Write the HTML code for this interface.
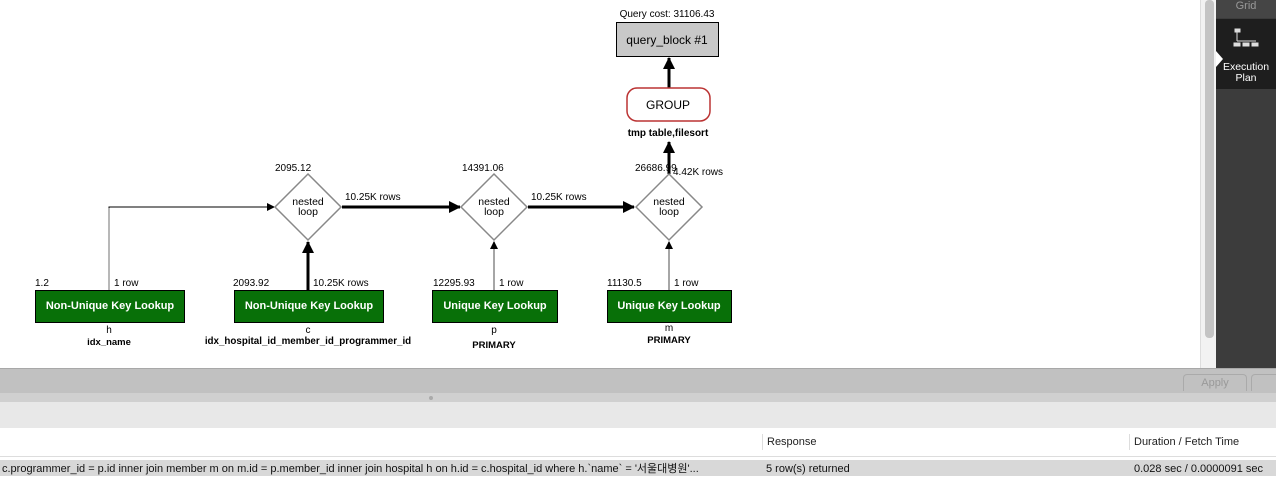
<!DOCTYPE html>
<html><head><style>
body{margin:0;width:1276px;height:476px;overflow:hidden;background:#fff;font-family:"Liberation Sans",Arial,sans-serif;position:relative}
.a{position:absolute}
</style></head><body>
<svg class="a" style="left:0;top:0" width="1200" height="368" font-family="Liberation Sans, Arial, sans-serif" font-size="10">
<defs>
<marker id="ah" markerWidth="8" markerHeight="8" refX="7" refY="4" orient="auto" markerUnits="userSpaceOnUse"><path d="M0,0 L8,4 L0,8 z" fill="#000"/></marker>
<marker id="ah2" markerWidth="12" markerHeight="12" refX="11" refY="6" orient="auto" markerUnits="userSpaceOnUse"><path d="M0,0 L12,6 L0,12 z" fill="#000"/></marker>
</defs>
<polyline points="109,290 109,207 274,207" fill="none" stroke="#000" stroke-width="1" marker-end="url(#ah)"/>
<line x1="109" y1="290" x2="109" y2="208" stroke="#888" stroke-width="1.2"/>
<line x1="308" y1="290" x2="308" y2="242" stroke="#000" stroke-width="3" marker-end="url(#ah2)"/>
<line x1="342" y1="207" x2="460" y2="207" stroke="#000" stroke-width="3" marker-end="url(#ah2)"/>
<line x1="528" y1="207" x2="634" y2="207" stroke="#000" stroke-width="3" marker-end="url(#ah2)"/>
<line x1="494" y1="290" x2="494" y2="242" stroke="#888" stroke-width="1.5" marker-end="url(#ah)"/>
<line x1="669" y1="290" x2="669" y2="242" stroke="#888" stroke-width="1.5" marker-end="url(#ah)"/>
<line x1="669" y1="174" x2="669" y2="142" stroke="#000" stroke-width="3" marker-end="url(#ah2)"/>
<line x1="669" y1="88" x2="669" y2="58" stroke="#000" stroke-width="3" marker-end="url(#ah2)"/>
<g fill="#fff" stroke="#888" stroke-width="1.5">
<polygon points="308,174 341,207 308,240 275,207"/>
<polygon points="494,174 527,207 494,240 461,207"/>
<polygon points="669,174 702,207 669,240 636,207"/>
</g>
<g text-anchor="middle" font-size="10.5">
<text x="308" y="205">nested</text><text x="308" y="215">loop</text>
<text x="494" y="205">nested</text><text x="494" y="215">loop</text>
<text x="669" y="205">nested</text><text x="669" y="215">loop</text>
</g>
<rect x="616.5" y="22.5" width="102" height="34" fill="#c8c8c8" stroke="#000"/>
<text x="667" y="44" text-anchor="middle" font-size="12">query_block #1</text>
<text x="667" y="17" text-anchor="middle" font-size="10">Query cost: 31106.43</text>
<rect x="627" y="88" width="83" height="33" rx="10" fill="#fff" stroke="#b33" stroke-width="1.5"/>
<text x="668" y="109" text-anchor="middle" font-size="12">GROUP</text>
<text x="668" y="136" text-anchor="middle" font-size="10" font-weight="bold">tmp table,filesort</text>
<text x="275" y="171">2095.12</text>
<text x="345" y="200">10.25K rows</text>
<text x="462" y="171">14391.06</text>
<text x="531" y="200">10.25K rows</text>
<text x="635" y="171">26686.99</text>
<text x="673" y="175">4.42K rows</text>
<text x="35" y="286">1.2</text><text x="114" y="286">1 row</text>
<text x="233" y="286">2093.92</text><text x="313" y="286">10.25K rows</text>
<text x="433" y="286">12295.93</text><text x="499" y="286">1 row</text>
<text x="607" y="286">11130.5</text><text x="674" y="286">1 row</text>
<g fill="#087008" stroke="#000">
<rect x="35.5" y="290.5" width="149" height="32"/>
<rect x="234.5" y="290.5" width="149" height="32"/>
<rect x="432.5" y="290.5" width="125" height="32"/>
<rect x="607.5" y="290.5" width="124" height="32"/>
</g>
<g fill="#fff" font-weight="bold" font-size="11" text-anchor="middle">
<text x="110" y="309">Non-Unique Key Lookup</text>
<text x="309" y="309">Non-Unique Key Lookup</text>
<text x="495" y="309">Unique Key Lookup</text>
<text x="669" y="309">Unique Key Lookup</text>
</g>
<g text-anchor="middle" font-size="10">
<text x="109" y="333">h</text><text x="109" y="345" font-weight="bold" font-size="9.5">idx_name</text>
<text x="308" y="333">c</text><text x="308" y="344" font-weight="bold" font-size="9.8">idx_hospital_id_member_id_programmer_id</text>
<text x="494" y="333">p</text><text x="494" y="348" font-weight="bold" font-size="9.5">PRIMARY</text>
<text x="669" y="331">m</text><text x="669" y="343" font-weight="bold" font-size="9.5">PRIMARY</text>
</g>
</svg>
<div class="a" style="left:1200px;top:0;width:16px;height:368px;background:#f2f2f2;border-left:1px solid #ddd"></div>
<div class="a" style="left:1205px;top:0;width:9px;height:338px;background:#c4c4c4;border-radius:4px"></div>
<div class="a" style="left:1216px;top:0;width:60px;height:368px;background:#3c3c3c"></div>
<div class="a" style="left:1216px;top:0;width:60px;height:18px;background:#454545;color:#999;font-size:11px;text-align:center;line-height:12px">Grid</div>
<div class="a" style="left:1216px;top:19px;width:60px;height:70px;background:#1e1e1e;color:#fff;font-size:10.5px;text-align:center">
<svg width="60" height="34"><g stroke="#ddd" fill="#ddd"><rect x="19" y="10" width="5" height="3"/><line x1="21" y1="13" x2="21" y2="22"/><line x1="21" y1="22" x2="40" y2="22"/><rect x="18" y="24" width="6" height="3"/><rect x="27" y="24" width="6" height="3"/><rect x="36" y="24" width="6" height="3"/></g></svg>
<div style="line-height:11px;margin-top:6px">Execution<br>Plan</div></div>
<div class="a" style="left:1216px;top:51px;width:0;height:0;border-top:8px solid transparent;border-bottom:8px solid transparent;border-left:7px solid #fff"></div>
<div class="a" style="left:0;top:368px;width:1276px;height:24px;background:#c1c1c1;border-top:1px solid #a8a8a8;border-bottom:1px solid #999"></div>
<div class="a" style="left:1183px;top:374px;width:62px;height:16px;border:1px solid #aaa;border-bottom:none;border-radius:4px 4px 0 0;color:#999;font-size:11px;text-align:center;line-height:16px">Apply</div>
<div class="a" style="left:1251px;top:374px;width:30px;height:16px;border:1px solid #aaa;border-bottom:none;border-radius:4px 0 0 0"></div>
<div class="a" style="left:0;top:393px;width:1276px;height:9px;background:#d0d0d0"></div>
<div class="a" style="left:429px;top:396px;width:4px;height:4px;border-radius:2px;background:#aaa"></div>
<div class="a" style="left:0;top:402px;width:1276px;height:26px;background:#e8e8e8"></div>
<div class="a" style="left:762px;top:434px;height:16px;border-left:1px solid #ddd;padding-left:4px;font-size:11px;line-height:16px;color:#222">Response</div>
<div class="a" style="left:1129px;top:434px;height:16px;border-left:1px solid #ddd;padding-left:4px;font-size:11px;line-height:16px;color:#222">Duration / Fetch Time</div>
<div class="a" style="left:0;top:456px;width:1276px;height:1px;background:#ddd"></div>
<div class="a" style="left:0;top:460px;width:1276px;height:16px;background:#d8d8d8;font-size:11px;line-height:18px;color:#111;white-space:nowrap">
<span class="a" style="left:2px">c.programmer_id = p.id inner join member m on m.id = p.member_id inner join hospital h on h.id = c.hospital_id where h.`name` = '서울대병원'...</span>
<span class="a" style="left:766px">5 row(s) returned</span>
<span class="a" style="left:1134px">0.028 sec / 0.0000091 sec</span></div>
</body></html>
